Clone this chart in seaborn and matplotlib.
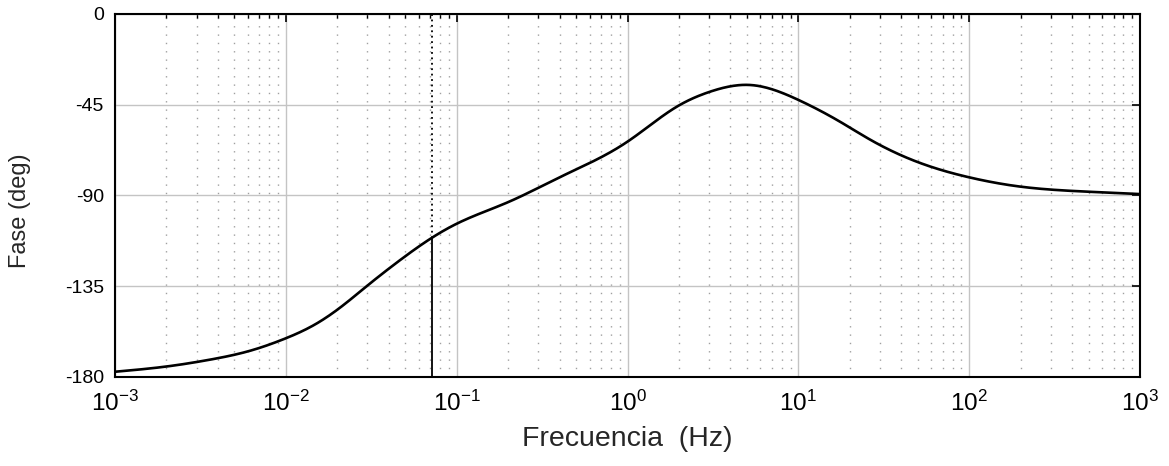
import numpy as np
import pandas as pd
import seaborn as sns
import matplotlib
matplotlib.use("Agg")
import matplotlib.pyplot as plt
from matplotlib.ticker import LogLocator, NullFormatter, FixedLocator, FuncFormatter

frecuencia = [0.001, 0.002, 0.0036, 0.00617, 0.0096, 0.0152, 0.0216, 0.0298, 0.0467, 0.0715,
              0.1, 0.2, 0.4, 1.0, 1.94, 3.05, 5.2, 10, 17.6, 26.3, 51.7, 100, 199, 489, 1000]
fase = [-177.4, -174.8, -171.4, -167.0, -161.4, -153.4, -144.5, -134.9, -122.0, -111.0,
        -104.0, -93.3, -81.0, -63.3, -46.0, -38.5, -35.2, -42.6, -53.5, -62.3, -73.9, -81.0, -85.6, -88.1, -89.3]

f_marca = 0.0715
fase_marca = -111.0

yticks = [0, -45, -90, -135, -180]


def spline_natural(x, y, xn):
    # spline cubico natural (sin scipy)
    n = len(x)
    h = np.diff(x)
    A = np.zeros((n, n))
    b = np.zeros(n)
    A[0, 0] = 1
    A[-1, -1] = 1
    for i in range(1, n - 1):
        A[i, i - 1] = h[i - 1]
        A[i, i] = 2 * (h[i - 1] + h[i])
        A[i, i + 1] = h[i]
        b[i] = 3 * ((y[i + 1] - y[i]) / h[i] - (y[i] - y[i - 1]) / h[i - 1])
    c = np.linalg.solve(A, b)
    bb = (y[1:] - y[:-1]) / h - h * (2 * c[:-1] + c[1:]) / 3
    d = (c[1:] - c[:-1]) / (3 * h)
    idx = np.clip(np.searchsorted(x, xn) - 1, 0, n - 2)
    t = xn - x[idx]
    return y[idx] + bb[idx] * t + c[idx] * t**2 + d[idx] * t**3


df = pd.DataFrame({"Frecuencia": frecuencia, "Fase": fase})
logf = np.log10(df["Frecuencia"].values)
fine = np.linspace(logf.min(), logf.max(), 800)
curva = pd.DataFrame({"Frecuencia": 10**fine,
                      "Fase": spline_natural(logf, df["Fase"].values.astype(float), fine)})

sns.set_style("white")
plt.rcParams["font.family"] = ["Liberation Sans", "DejaVu Sans"]
plt.rcParams["mathtext.default"] = "regular"

fig = plt.figure(figsize=(11.69, 4.66), dpi=100)
ax = fig.add_axes([0.0984, 0.191, 0.8768, 0.779])

sns.lineplot(data=curva, x="Frecuencia", y="Fase", color="black", linewidth=1.9, ax=ax)
ax.set_xscale("log")
ax.set_xlim(1e-3, 1e3)
ax.set_ylim(-180, 0)

# linea vertical de la marca
ax.plot([f_marca, f_marca], [-180, fase_marca], color="black", linewidth=1.3)
ax.plot([f_marca, f_marca], [fase_marca, 0], color="black", linewidth=1.3, linestyle=(0, (1, 2)))

ax.yaxis.set_major_locator(FixedLocator(yticks))
ax.set_yticklabels([str(v) for v in yticks])
ax.xaxis.set_major_locator(LogLocator(base=10, numticks=20))
ax.xaxis.set_major_formatter(FuncFormatter(lambda v, p: r"$10^{%d}$" % int(round(np.log10(v)))))
ax.xaxis.set_minor_locator(LogLocator(base=10, subs=np.arange(2, 10), numticks=100))
ax.xaxis.set_minor_formatter(NullFormatter())

ax.grid(True, which="major", color="#c4c4c4", linewidth=1.0, linestyle="-")
ax.grid(True, which="minor", axis="x", color="#a0a0a0", linewidth=1.0, linestyle=(0, (1, 5)))

ax.tick_params(which="both", direction="in", top=True, right=True, colors="black")
ax.tick_params(axis="y", labelsize=14, pad=8)
ax.tick_params(axis="x", labelsize=17.5, pad=10)
ax.tick_params(which="major", length=6, width=1.2)
ax.tick_params(which="minor", length=3, width=1.0)

for s in ax.spines.values():
    s.set_color("black")
    s.set_linewidth(1.5)

ax.set_xlabel("Frecuencia  (Hz)", fontsize=20.5, labelpad=7)
ax.set_ylabel("Fase (deg)", fontsize=17)
ax.yaxis.set_label_coords(-0.082, 0.457)

fig.savefig("out.png", dpi=100)
